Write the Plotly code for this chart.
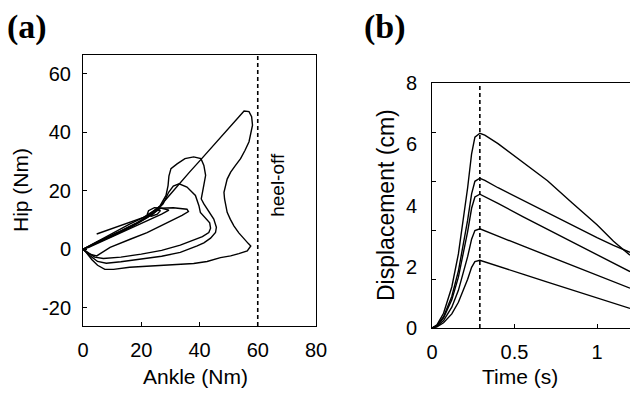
import plotly.graph_objects as go

# ---------------- Panel (a): Hip vs Ankle moment loops ----------------
loop1_ankle = [0, 4, 10, 16, 22, 26.6, 30, 33.4, 36.5, 40.3, 44, 47.5, 50.7, 53, 55.3, 57, 57.9, 58.2, 57.6, 57,
               55.6, 54.1, 52.3, 50.7, 49.5, 48.9, 48.4, 48.6, 49.5, 50.6, 51.8, 53.5, 55.3, 56.7, 57.6, 56.4, 53.5,
               50.7, 47.2, 42.6, 38, 33.4, 27.5, 22, 16, 10.5, 7.5, 5, 3, 1, 0]
loop1_hip = [0, 2.2, 5.4, 8.6, 11.5, 14.9, 18.8, 22.8, 26.3, 30.5, 34.7, 38.6, 42.2, 45, 47.3, 47.1, 45.4, 42.5, 39.5,
             36.8, 33.8, 31, 28.6, 26.4, 24, 21.8, 19.5, 17.2, 12.6, 10.2, 8, 5.6, 3.4, 2, 1.1, -0.6, -1.5, -2.3, -2.9,
             -4.2, -4.9, -5.2, -5.5, -5.7, -6.2, -6.9, -6.9, -5.5, -3.5, -1, 0]

loop2_ankle = [0, 5, 12, 18, 23, 26.5, 28.5, 29.2, 29.5, 30.2, 32.3, 35, 38, 40.5, 41.5, 42.1, 41.5, 40.9, 40.6, 41.5,
               42.6, 44.9, 45.8, 45.5, 43.8, 41.5, 39.2, 33.4, 27, 20, 13, 8, 5, 2.5, 0]
loop2_hip = [0, 2.6, 5.8, 8.8, 11.8, 14.9, 18.4, 21.8, 25, 27.6, 29.2, 31, 31.6, 31, 28.7, 25.3, 22, 19.5, 17.2, 15.5,
             13.8, 10.3, 7.5, 5.7, 3.8, 2.2, 1.1, -1.1, -2.4, -3.4, -4.3, -4.8, -4.2, -2.3, 0]

loop3_ankle = [0, 6, 13, 19, 24, 27.5, 29.4, 31, 33, 35.7, 38.6, 39.8, 40.3, 42, 43.5, 43.8, 43.2, 41, 38, 33.4,
               27, 20, 13, 7, 4, 1.5, 0]
loop3_hip = [0, 2.9, 6.1, 9.1, 12, 15.5, 19.5, 21.6, 22.4, 21.3, 18.4, 14.9, 12.6, 10.8, 9, 7.2, 5.7, 4.3, 3.2, 1.4,
             -0.4, -1.7, -2.7, -3.2, -2.7, -1.2, 0]

loop4_ankle = [0, 5, 11, 17, 22, 26.6, 31, 35.7, 36.2, 34, 31, 26.5, 22, 16.2, 9.3, 4.7, 2, 0]
loop4_hip = [0, 2.2, 4.9, 7.8, 10.8, 14, 14.2, 13.7, 12.9, 11.6, 10.1, 7.9, 5.7, 3.4, 0.6, -2.3, -1.6, 0]

loop5_ankle = [4.7, 9.5, 13.9, 17.5, 20.8, 23, 25, 26.6, 25.5, 23.5, 22, 22.5, 24.5, 27, 29.5, 27, 23, 18, 12, 6, 2, 0]
loop5_hip = [5.2, 6.9, 8.2, 9.6, 10.9, 12.3, 13.4, 13.2, 12, 11.3, 11.8, 13.2, 14.2, 14, 13.4, 12, 10.2, 8, 5.2, 2.4,
             0.6, 0]

heel_off_ankle = 60
ankle_ticks = [0, 20, 40, 60, 80]
hip_ticks = [-20, 0, 20, 40, 60]
hip_tick_text = ["-20", "0", "20", "40", "60"]

# ---------------- Panel (b): Displacement vs time ----------------
time_s = [0, 0.03, 0.07, 0.12, 0.16, 0.19, 0.216, 0.24, 0.26, 0.29, 0.32, 0.4, 0.55, 0.7, 0.85, 1.0, 1.1, 1.2]
disp_1 = [0, 0.10, 0.48, 1.34, 2.42, 3.50, 4.58, 5.69, 6.23, 6.36, 6.30, 6.02, 5.43, 4.81, 4.08, 3.37, 2.83, 2.38]
disp_2 = [0, 0.08, 0.37, 1.03, 1.86, 2.69, 3.52, 4.38, 4.79, 4.89, 4.82, 4.58, 4.17, 3.76, 3.35, 2.95, 2.70, 2.47]
disp_3 = [0, 0.07, 0.33, 0.92, 1.66, 2.40, 3.15, 3.91, 4.28, 4.37, 4.29, 4.07, 3.64, 3.22, 2.80, 2.39, 2.11, 1.84]
disp_4 = [0, 0.05, 0.24, 0.68, 1.23, 1.78, 2.33, 2.90, 3.18, 3.24, 3.18, 3.00, 2.68, 2.36, 2.04, 1.72, 1.51, 1.30]
disp_5 = [0, 0.04, 0.17, 0.46, 0.84, 1.22, 1.59, 1.98, 2.17, 2.21, 2.16, 2.02, 1.76, 1.50, 1.24, 0.98, 0.81, 0.64]

peak_time = 0.29
time_ticks = [0, 0.5, 1]
time_tick_text = ["0", "0.5", "1"]
disp_ticks = [0, 2, 4, 6, 8]
disp_minor_ticks = [1.6, 3.2, 4.8, 6.4]

W, H = 630, 393
SANS = "Liberation Sans, Arial, Helvetica, sans-serif"
SERIF = "Liberation Serif, Times New Roman, serif"
LINE = dict(color="black", width=1.4)

fig = go.Figure()
for lx, ly in [(loop1_ankle, loop1_hip), (loop2_ankle, loop2_hip), (loop3_ankle, loop3_hip),
               (loop4_ankle, loop4_hip), (loop5_ankle, loop5_hip)]:
    fig.add_trace(go.Scatter(x=lx, y=ly, mode="lines", line=LINE, xaxis="x", yaxis="y",
                             showlegend=False, hoverinfo="skip"))

for d in [disp_1, disp_2, disp_3, disp_4, disp_5]:
    fig.add_trace(go.Scatter(x=time_s, y=d, mode="lines", line=LINE, xaxis="x2", yaxis="y2",
                             showlegend=False, hoverinfo="skip"))

axis_common = dict(showline=True, linecolor="black", linewidth=1, ticklen=4,
                   tickcolor="black", showgrid=False, zeroline=False, automargin=False,
                   tickfont=dict(family=SANS, size=20, color="black"))

fig.update_layout(
    width=W, height=H, autosize=False,
    margin=dict(l=0, r=0, t=0, b=0, pad=0, autoexpand=False),
    paper_bgcolor="white", plot_bgcolor="white", showlegend=False,
    xaxis=dict(domain=[83 / W, 316 / W], range=[0, 80], tickvals=ankle_ticks, mirror=True, ticks="inside",
               anchor="y", ticklabelstandoff=6, **axis_common),
    yaxis=dict(domain=[1 - 326 / H, 1 - 55 / H], range=[-26.3, 66.5], tickvals=hip_ticks,
               ticktext=hip_tick_text, mirror=True, ticks="inside",
               anchor="x", ticklabelstandoff=7, **axis_common),
    xaxis2=dict(domain=[432 / W, 1.0], range=[0, 1.2], tickvals=time_ticks, ticktext=time_tick_text,
                mirror=True, ticks="inside", anchor="y2", ticklabelstandoff=6, **axis_common),
    yaxis2=dict(domain=[1 - 328 / H, 1 - 83 / H], range=[0, 8], tickvals=disp_ticks, mirror=False,
                ticks="", anchor="x2", ticklabelstandoff=10,
                minor=dict(tickvals=disp_minor_ticks, ticks="inside", ticklen=4, tickcolor="black"),
                **axis_common),
)

# dashed reference lines
fig.add_shape(type="line", xref="x", yref="y domain", x0=heel_off_ankle, x1=heel_off_ankle, y0=0, y1=1,
              line=dict(color="black", width=1.6, dash="4px,3px"))
fig.add_shape(type="line", xref="x2", yref="y2 domain", x0=peak_time, x1=peak_time, y0=0, y1=1,
              line=dict(color="black", width=1.6, dash="4px,3px"))

def label(text, x, y, size, family=SANS, angle=0, xref="paper", yref="paper"):
    return dict(text=text, x=x, y=y, xref=xref, yref=yref, showarrow=False, textangle=angle,
                xanchor="center", yanchor="middle", font=dict(family=family, size=size, color="black"))

ann = [
    label("heel-off", 66.8, 21.9, 19, angle=-90, xref="x", yref="y"),
    label("Ankle (Nm)", 195 / W, 1 - 376 / H, 21),
    label("Time (s)", 520 / W, 1 - 376 / H, 21),
    label("Hip (Nm)", 20 / W, 1 - 190 / H, 21, angle=-90),
    label("Displacement (cm)", 386 / W, 1 - 205 / H, 23, angle=-90),
    label("<b>(a)</b>", 27 / W, 1 - 27 / H, 34, family=SERIF),
    label("<b>(b)</b>", 385 / W, 1 - 27 / H, 34, family=SERIF),
]
fig.update_layout(annotations=ann)

fig.write_html("out.html", config={"displayModeBar": False},
               post_script="document.body.style.margin='0px';document.body.style.overflow='hidden';")
